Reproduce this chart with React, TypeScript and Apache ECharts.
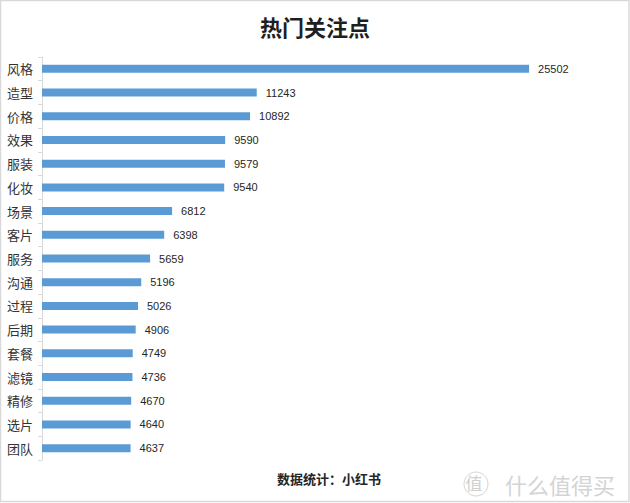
import React, { useEffect, useRef } from "react";
import * as echarts from "echarts";

const categories = ["风格", "造型", "价格", "效果", "服装", "化妆", "场景", "客片", "服务", "沟通", "过程", "后期", "套餐", "滤镜", "精修", "选片", "团队"];
const values = [25502, 11243, 10892, 9590, 9579, 9540, 6812, 6398, 5659, 5196, 5026, 4906, 4749, 4736, 4670, 4640, 4637];
const titleText = "热门关注点";
const sourceText = "数据统计：小红书";
const watermarkText = "什么值得买";

const FONT = "'Noto Sans CJK SC', 'Noto Sans', sans-serif";

export default function App() {
  const ref = useRef<HTMLDivElement>(null);
  useEffect(() => {
    document.body.style.margin = "0";
    const chart = echarts.init(ref.current!, null, { renderer: "svg" });
    chart.setOption({
      animation: false,
      backgroundColor: "#ffffff",
      title: {
        text: titleText,
        left: "center",
        top: 10,
        textStyle: { fontSize: 22, fontWeight: "bold", color: "#1f1f1f", fontFamily: FONT },
      },
      grid: { left: 42, top: 57, width: 573, height: 403, containLabel: false },
      xAxis: {
        type: "value",
        min: 0,
        max: 30000,
        show: false,
        splitLine: { show: false },
      },
      yAxis: {
        type: "category",
        data: categories,
        inverse: true,
        axisLine: { show: true, lineStyle: { color: "#d9d9d9", width: 1 } },
        axisTick: { show: true, length: 4, lineStyle: { color: "#d9d9d9" } },
        axisLabel: { fontSize: 13, color: "#333333", margin: 9, fontFamily: FONT },
      },
      series: [
        {
          type: "bar",
          data: values,
          barWidth: 8,
          itemStyle: { color: "#5B9BD5" },
          label: {
            show: true,
            position: "right",
            distance: 9,
            fontSize: 11,
            color: "#262626",
            fontFamily: "'Liberation Sans', sans-serif",
          },
        },
      ],
      graphic: [
        {
          type: "rect",
          shape: { x: 0.5, y: 0.5, width: 628.5, height: 501 },
          style: { fill: "none", stroke: "#d9d9d9", lineWidth: 1.5 },
          silent: true,
        },
        {
          type: "text",
          x: 329,
          y: 478,
          style: {
            text: sourceText,
            fontSize: 13,
            fontWeight: "bold",
            fill: "#262626",
            fontFamily: FONT,
            textAlign: "center",
            textVerticalAlign: "middle",
          },
        },
        {
          type: "circle",
          shape: { cx: 476, cy: 484, r: 12 },
          style: { fill: "none", stroke: "#d6d6d6", lineWidth: 1 },
        },
        {
          type: "text",
          x: 474,
          y: 482,
          style: {
            text: "值",
            fontSize: 17,
            fill: "#d0d0d0",
            fontFamily: FONT,
            textAlign: "center",
            textVerticalAlign: "middle",
          },
        },
        {
          type: "text",
          x: 505,
          y: 484,
          style: {
            text: watermarkText,
            fontSize: 22,
            fill: "#d4d4d4",
            fontFamily: FONT,
            textAlign: "left",
            textVerticalAlign: "middle",
          },
        },
      ],
    });
    return () => chart.dispose();
  }, []);
  return <div ref={ref} style={{ width: 630, height: 503 }} />;
}
